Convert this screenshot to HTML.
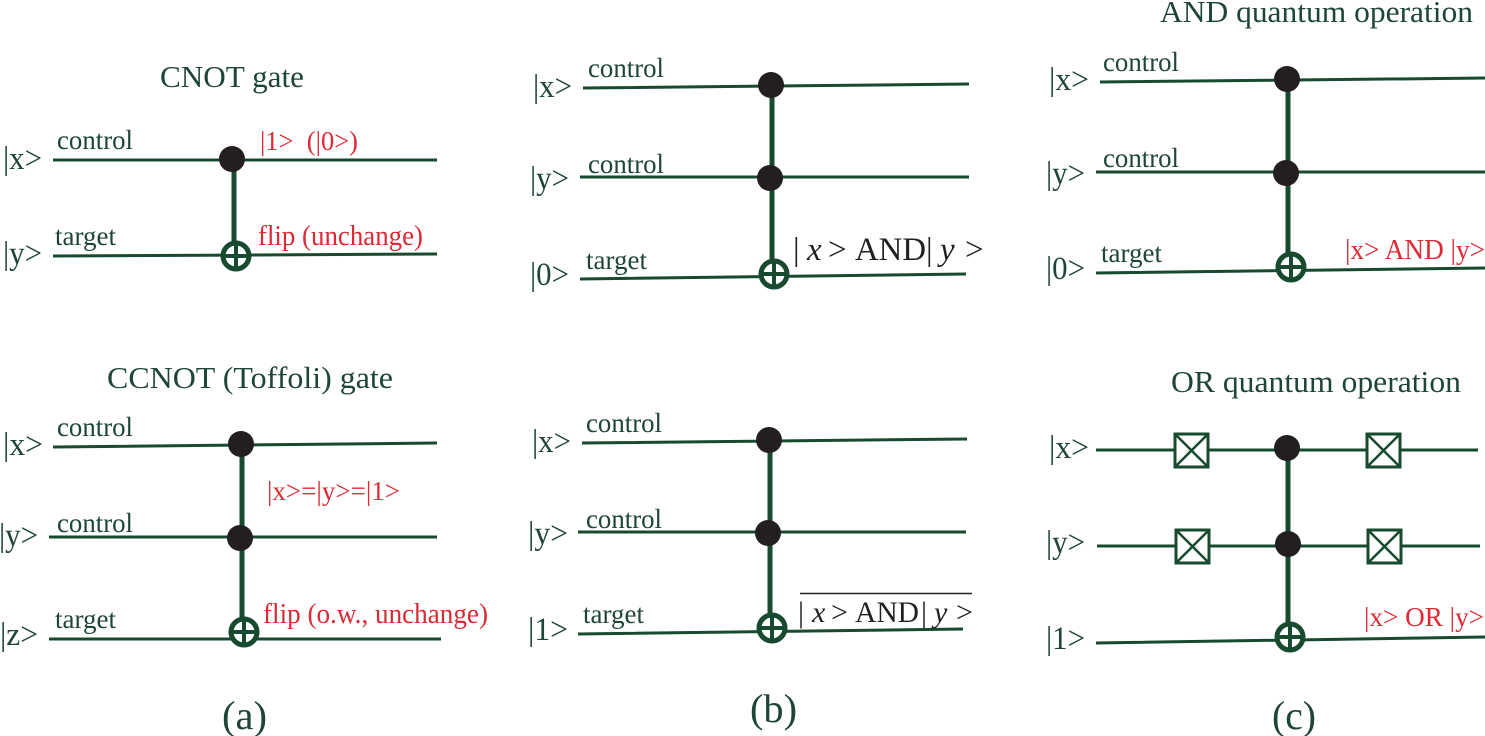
<!DOCTYPE html>
<html><head><meta charset="utf-8"><style>
html,body{margin:0;padding:0;background:#fff;width:1485px;height:736px;overflow:hidden}
svg{display:block}
text{font-family:"Liberation Serif",serif;fill:#1e4636;white-space:pre}
.r{fill:#dc2a35}
.k{fill:#231f20}
.w{stroke:#174a2e;stroke-width:3;fill:none}
.v{stroke:#174a2e;stroke-width:5;fill:none}
.o{stroke:#174a2e;stroke-width:5;fill:#fff}
.p{stroke:#174a2e;stroke-width:4;fill:none}
.b{stroke:#174a2e;stroke-width:3;fill:#fff}
.x{stroke:#174a2e;stroke-width:2.500;fill:none}
.d{fill:#231f20}
</style></head><body>
<svg width="1485" height="736" viewBox="0 0 1485 736" xmlns="http://www.w3.org/2000/svg">
<!-- wires a -->
<path class="w" d="M53 160H437M53 256L437 254M53 447L437 443M49 537H437M49 639H441"/>
<path class="v" d="M234 160V245M242 444V620"/>
<circle class="d" cx="232" cy="159" r="13"/>
<circle class="o" cx="236" cy="256" r="13"/><path class="p" d="M236 243V269M223 256H249"/>
<circle class="d" cx="241" cy="444" r="13"/><circle class="d" cx="240" cy="538" r="13"/>
<circle class="o" cx="244" cy="632" r="13"/><path class="p" d="M244 619V645M231 632H257"/>
<!-- wires b -->
<path class="w" d="M583 88L969 84M580 177H969M580 279L966 274M582 443L967 439M578 532H966M578 634L963 629"/>
<path class="v" d="M772 85V262M770 440V617"/>
<circle class="d" cx="771" cy="85" r="13"/><circle class="d" cx="770" cy="178" r="13"/>
<circle class="o" cx="774" cy="274" r="13"/><path class="p" d="M774 261V287M761 274H787"/>
<circle class="d" cx="769" cy="440" r="13"/><circle class="d" cx="768" cy="533" r="13"/>
<circle class="o" cx="772" cy="628" r="13"/><path class="p" d="M772 615V641M759 628H785"/>
<!-- wires c -->
<path class="w" d="M1100 82L1488 78M1096 172H1485M1096 273L1485 268M1096 450H1478M1097 546H1480M1096 643L1485 637"/>
<path class="v" d="M1288 78V253M1288 448V623"/>
<circle class="d" cx="1287" cy="79" r="13"/><circle class="d" cx="1286" cy="173" r="13"/>
<circle class="o" cx="1291" cy="267" r="13"/><path class="p" d="M1291 254V280M1278 267H1304"/>
<circle class="d" cx="1287" cy="448" r="13"/><circle class="d" cx="1288" cy="544" r="13"/>
<circle class="o" cx="1290" cy="637" r="13"/><path class="p" d="M1290 624V650M1277 637H1303"/>
<!-- swap boxes -->
<rect class="b" x="1175" y="434" width="33" height="33"/><path class="x" d="M1175 434L1208 467M1208 434L1175 467"/>
<rect class="b" x="1367" y="434" width="33" height="33"/><path class="x" d="M1367 434L1400 467M1400 434L1367 467"/>
<rect class="b" x="1176" y="530" width="33" height="33"/><path class="x" d="M1176 530L1209 563M1209 530L1176 563"/>
<rect class="b" x="1368" y="530" width="33" height="33"/><path class="x" d="M1368 530L1401 563M1401 530L1368 563"/>
<!-- titles -->
<text x="160" y="87" font-size="31" textLength="144" lengthAdjust="spacingAndGlyphs">CNOT gate</text>
<text x="107" y="388" font-size="31" textLength="286" lengthAdjust="spacingAndGlyphs">CCNOT (Toffoli) gate</text>
<text x="1160" y="22" font-size="31" textLength="313" lengthAdjust="spacingAndGlyphs">AND quantum operation</text>
<text x="1171" y="392" font-size="31" textLength="290" lengthAdjust="spacingAndGlyphs">OR quantum operation</text>
<!-- kets a -->
<text x="3" y="169" font-size="33" textLength="39" lengthAdjust="spacingAndGlyphs">|x&gt;</text>
<text x="3" y="264" font-size="33" textLength="39" lengthAdjust="spacingAndGlyphs">|y&gt;</text>
<text x="3" y="455" font-size="33" textLength="40" lengthAdjust="spacingAndGlyphs">|x&gt;</text>
<text x="-1" y="546" font-size="33" textLength="39" lengthAdjust="spacingAndGlyphs">|y&gt;</text>
<text x="0" y="645" font-size="33" textLength="38" lengthAdjust="spacingAndGlyphs">|z&gt;</text>
<!-- kets b -->
<text x="533" y="97" font-size="33" textLength="39" lengthAdjust="spacingAndGlyphs">|x&gt;</text>
<text x="530" y="189" font-size="33" textLength="39" lengthAdjust="spacingAndGlyphs">|y&gt;</text>
<text x="530" y="285" font-size="33" textLength="39" lengthAdjust="spacingAndGlyphs">|0&gt;</text>
<text x="532" y="452" font-size="33" textLength="39" lengthAdjust="spacingAndGlyphs">|x&gt;</text>
<text x="528" y="544" font-size="33" textLength="40" lengthAdjust="spacingAndGlyphs">|y&gt;</text>
<text x="528" y="640" font-size="33" textLength="40" lengthAdjust="spacingAndGlyphs">|1&gt;</text>
<!-- kets c -->
<text x="1049" y="90" font-size="33" textLength="40" lengthAdjust="spacingAndGlyphs">|x&gt;</text>
<text x="1046" y="184" font-size="33" textLength="39" lengthAdjust="spacingAndGlyphs">|y&gt;</text>
<text x="1046" y="279" font-size="33" textLength="39" lengthAdjust="spacingAndGlyphs">|0&gt;</text>
<text x="1049" y="458" font-size="33" textLength="40" lengthAdjust="spacingAndGlyphs">|x&gt;</text>
<text x="1046" y="553" font-size="33" textLength="39" lengthAdjust="spacingAndGlyphs">|y&gt;</text>
<text x="1046" y="649" font-size="33" textLength="39" lengthAdjust="spacingAndGlyphs">|1&gt;</text>
<!-- control/target labels -->
<text x="57" y="149" font-size="27" textLength="76" lengthAdjust="spacingAndGlyphs">control</text>
<text x="55" y="245" font-size="27" textLength="61" lengthAdjust="spacingAndGlyphs">target</text>
<text x="57" y="436" font-size="27" textLength="76" lengthAdjust="spacingAndGlyphs">control</text>
<text x="57" y="532" font-size="27" textLength="76" lengthAdjust="spacingAndGlyphs">control</text>
<text x="55" y="628" font-size="27" textLength="61" lengthAdjust="spacingAndGlyphs">target</text>
<text x="588" y="77" font-size="27" textLength="76" lengthAdjust="spacingAndGlyphs">control</text>
<text x="588" y="173" font-size="27" textLength="76" lengthAdjust="spacingAndGlyphs">control</text>
<text x="586" y="269" font-size="27" textLength="61" lengthAdjust="spacingAndGlyphs">target</text>
<text x="586" y="432" font-size="27" textLength="76" lengthAdjust="spacingAndGlyphs">control</text>
<text x="586" y="528" font-size="27" textLength="76" lengthAdjust="spacingAndGlyphs">control</text>
<text x="583" y="623" font-size="27" textLength="61" lengthAdjust="spacingAndGlyphs">target</text>
<text x="1103" y="71" font-size="27" textLength="76" lengthAdjust="spacingAndGlyphs">control</text>
<text x="1103" y="167" font-size="27" textLength="76" lengthAdjust="spacingAndGlyphs">control</text>
<text x="1101" y="262" font-size="27" textLength="61" lengthAdjust="spacingAndGlyphs">target</text>
<!-- red labels -->
<text class="r" x="260" y="150" font-size="27" textLength="98" lengthAdjust="spacingAndGlyphs">|1&gt;  (|0&gt;)</text>
<text class="r" x="258" y="245" font-size="28" textLength="165" lengthAdjust="spacingAndGlyphs">flip (unchange)</text>
<text class="r" x="267" y="500" font-size="27" textLength="133" lengthAdjust="spacingAndGlyphs">|x&gt;=|y&gt;=|1&gt;</text>
<text class="r" x="263" y="623" font-size="28" textLength="225" lengthAdjust="spacingAndGlyphs">flip (o.w., unchange)</text>
<text class="r" x="1345" y="259" font-size="28" textLength="140" lengthAdjust="spacingAndGlyphs">|x&gt; AND |y&gt;</text>
<text class="r" x="1364" y="626" font-size="27" textLength="120" lengthAdjust="spacingAndGlyphs">|x&gt; OR |y&gt;</text>
<!-- black formula: upper -->
<text class="k" x="793" y="260" font-size="33">|</text>
<text class="k" x="807" y="260" font-size="33" font-style="italic">x</text>
<text class="k" x="828" y="260" font-size="33">&gt;</text>
<text class="k" x="855" y="260" font-size="33" textLength="71" lengthAdjust="spacingAndGlyphs">AND</text>
<text class="k" x="926" y="260" font-size="33">|</text>
<text class="k" x="940" y="260" font-size="33" font-style="italic">y</text>
<text class="k" x="965" y="260" font-size="33">&gt;</text>
<!-- black formula: lower -->
<text class="k" x="798" y="622" font-size="30">|</text>
<text class="k" x="812" y="622" font-size="30" font-style="italic">x</text>
<text class="k" x="831" y="622" font-size="30">&gt;</text>
<text class="k" x="855" y="622" font-size="30" textLength="64" lengthAdjust="spacingAndGlyphs">AND</text>
<text class="k" x="921" y="622" font-size="30">|</text>
<text class="k" x="934" y="622" font-size="30" font-style="italic">y</text>
<text class="k" x="956" y="622" font-size="30">&gt;</text>
<path d="M800 593.500H972" stroke="#231f20" stroke-width="1.500" fill="none"/>
<!-- captions -->
<text x="222" y="729" font-size="40" textLength="45" lengthAdjust="spacingAndGlyphs">(a)</text>
<text x="750" y="722" font-size="40" textLength="47" lengthAdjust="spacingAndGlyphs">(b)</text>
<text x="1272" y="729" font-size="40" textLength="44" lengthAdjust="spacingAndGlyphs">(c)</text>
</svg>
</body></html>
